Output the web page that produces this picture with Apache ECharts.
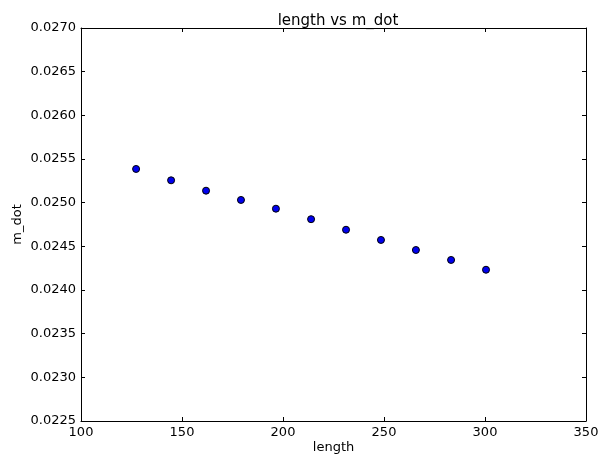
<!DOCTYPE html>
<html><head><meta charset="utf-8">
<script src="https://cdn.jsdelivr.net/npm/echarts@6/dist/echarts.min.js"></script>
<style>html,body{margin:0;padding:0;background:#fff;overflow:hidden}#c{width:599px;height:454px;position:absolute;left:0;top:0}</style>
</head><body><div id="c"></div>
<script>
const lengthVals = [127.27, 144.6, 161.9, 179.2, 196.5, 213.9, 231.2, 248.5, 265.8, 283.2, 300.5];
const mdotVals = [0.025386, 0.025256, 0.025137, 0.025031, 0.024931, 0.024811, 0.024690, 0.024573, 0.024458, 0.024344, 0.024232];
const xTicks = [100, 150, 200, 250, 300, 350];
const yTicks = [0.0225, 0.0230, 0.0235, 0.0240, 0.0245, 0.0250, 0.0255, 0.0260, 0.0265, 0.0270];

const font = 'DejaVu Sans';
const chart = echarts.init(document.getElementById('c'), null, {renderer: 'canvas', width: 599, height: 454});
const axisCommon = {
  axisLine: {show: true, onZero: false, lineStyle: {color: '#000', width: 1}},
  axisTick: {show: true, inside: true, length: 4, lineStyle: {color: '#000'}},
  splitLine: {show: false},
  nameMoveOverlap: false
};
chart.setOption({
  animation: false,
  backgroundColor: '#fff',
  title: {text: 'length vs m_dot', left: 333, top: 9, textAlign: 'center',
    textStyle: {fontFamily: font, fontSize: 15, fontWeight: 'normal', color: '#000'}},
  grid: {left: 81, right: 13, top: 28, bottom: 33, containLabel: false, outerBoundsMode: 'none'},
  xAxis: [
    Object.assign({type: 'value', min: xTicks[0], max: xTicks[xTicks.length-1], interval: 50, position: 'bottom',
      name: 'length', nameLocation: 'middle', nameGap: 20,
      nameTextStyle: {fontFamily: font, fontSize: 13, color: '#000'},
      axisLabel: {fontFamily: font, fontSize: 13, color: '#000', margin: 5}}, axisCommon),
    Object.assign({type: 'value', min: xTicks[0], max: xTicks[xTicks.length-1], interval: 50, position: 'top',
      axisLabel: {show: false}}, axisCommon)
  ],
  yAxis: [
    Object.assign({type: 'value', min: yTicks[0], max: yTicks[yTicks.length-1], interval: 0.0005, position: 'left',
      name: 'm_dot', nameLocation: 'middle', nameGap: 57, nameRotate: 90,
      nameTextStyle: {fontFamily: font, fontSize: 13, color: '#000'},
      axisLabel: {fontFamily: font, fontSize: 13, color: '#000', margin: 5, formatter: v => v.toFixed(4)}}, axisCommon),
    Object.assign({type: 'value', min: yTicks[0], max: yTicks[yTicks.length-1], interval: 0.0005, position: 'right',
      axisLabel: {show: false}}, axisCommon)
  ],
  series: [{
    type: 'scatter',
    data: lengthVals.map((x, i) => [x, mdotVals[i]]),
    symbol: 'circle', symbolSize: 7,
    itemStyle: {color: '#0000ee', borderColor: '#000', borderWidth: 1, opacity: 1}
  }]
});
</script></body></html>
